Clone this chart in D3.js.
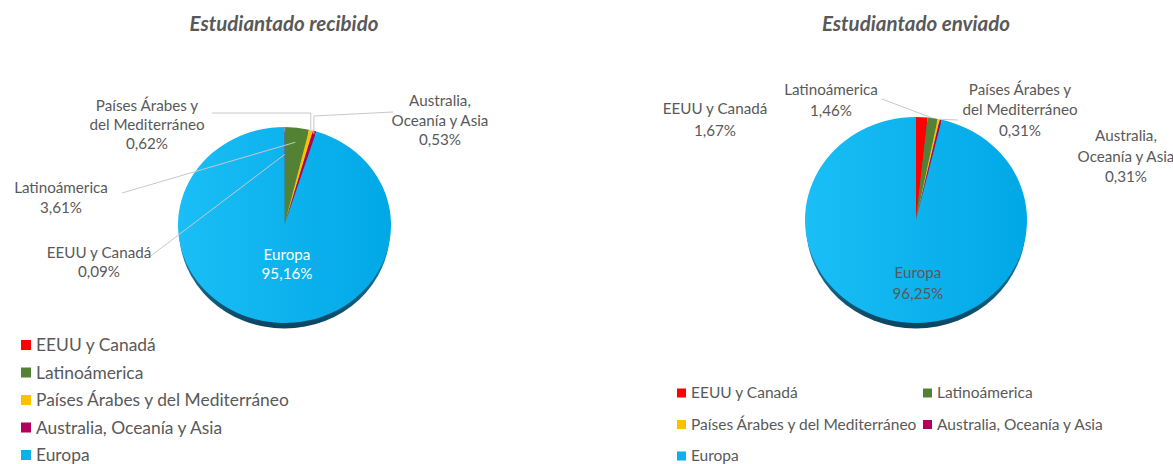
<!DOCTYPE html>
<html lang="es">
	<head>
		<meta charset="utf-8">
		<title>Estudiantado recibido / enviado</title>
		<script type="text/javascript" src="https://d3js.org/d3.v7.min.js"></script>
		<style>
			body { margin:0; background:#fff; }
			text { font-family: Lato, "Open Sans", sans-serif; fill:#595959; }
		</style>
	</head>
	<body>
		<svg id="chart"></svg>
		<script>

			// datos (porcentajes)
			var regiones = ["EEUU y Canadá","Latinoámerica","Países Árabes y del Mediterráneo","Australia, Oceanía y Asia","Europa"];
			var recibido = [0.09,3.61,0.62,0.53,95.16];
			var enviado  = [1.67,1.46,0.31,0.31,96.25];
			var colores  = ["#ff0000","#548235","#ffc000","#b3005c","#0cb0ef"];
			var titulos  = ["Estudiantado recibido","Estudiantado enviado"];

			var width = 1173, height = 464;
			var svg = d3.select("#chart").attr("width",width).attr("height",height);

			var color = d3.scaleOrdinal().domain(regiones).range(colores);
			var fmt = function(v){ return d3.format(".2f")(v).replace(".",",") + "%"; };

			var defs = svg.append("defs");
			var grad = defs.append("linearGradient").attr("id","azul")
				.attr("x1","0").attr("y1","0").attr("x2","1").attr("y2","0");
			grad.append("stop").attr("offset","0").attr("stop-color","#1bbef6");
			grad.append("stop").attr("offset","1").attr("stop-color","#00a8e6");
			var sgrad = defs.append("linearGradient").attr("id","sombra")
				.attr("x1","0").attr("y1","0").attr("x2","0").attr("y2","1");
			sgrad.append("stop").attr("offset","0.6").attr("stop-color","#1a7fa8");
			sgrad.append("stop").attr("offset","1").attr("stop-color","#0b4460");

			// etiquetas partidas en lineas
			var partes = {
				"Países Árabes y del Mediterráneo": ["Países Árabes y","del Mediterráneo"],
				"Australia, Oceanía y Asia": ["Australia,","Oceanía y Asia"]
			};

			var pies = [
				{ datos: recibido, cx:284.5, cy:225, rx:106.5, ry:98, titulo:titulos[0], tx:284,
				  europaColor:"#ffffff",
				  labels: [
					{x:99,  y:[253,272], line:[[148,258],"a0.72"]},
					{x:61,  y:[188,207.5], line:[[122,193],"a0.85"]},
					{x:147, y:[106,124.5,143.5], elbow:[212,113], r:0.99},
					{x:440, y:[101,121,140], elbow:[393,112,116], r:0.97},
					{x:287, y:[255,273.5]}
				]},
				{ datos: enviado, cx:916, cy:220, rx:111, ry:103, titulo:titulos[1], tx:916,
				  europaColor:"#595959",
				  labels: [
					{x:715,  y:[109,130.5]},
					{x:831,  y:[89.5,110.5], line:[[882,99],"a1.0"]},
					{x:1020, y:[89.5,110,131], flat:[958,120]},
					{x:1126, y:[136,156.5,177]},
					{x:918,  y:[273,293.5]}
				]}
			];

			var pie = d3.pie().sort(null).value(function(d){ return d.v; })
				.startAngle(0).endAngle(2*Math.PI);

			pies.forEach(function(p){
				var k = p.ry/p.rx;
				var data = pie(p.datos.map(function(v,i){ return {v:v, name:regiones[i]}; }));
				var arc = d3.arc().innerRadius(0).outerRadius(p.rx);

				// titulo
				svg.append("text")
					.attr("x",p.tx).attr("y",31)
					.attr("text-anchor","middle")
					.style("font-size","20.5px").style("font-weight","bold").style("font-style","italic")
					.text(p.titulo);

				// sombra inferior
				svg.append("ellipse")
					.attr("cx",p.cx).attr("cy",p.cy+5)
					.attr("rx",p.rx-1).attr("ry",p.ry+0.5)
					.attr("fill","url(#sombra)");

				var g = svg.append("g")
					.attr("transform","translate("+p.cx+","+p.cy+") scale(1,"+k+")");
				g.selectAll("path")
					.data(data)
					.enter()
					.append("path")
					.attr("d",arc)
					.attr("fill",function(d){ return d.data.name=="Europa" ? "url(#azul)" : color(d.data.name); });

				// punto sobre el sector (coordenadas de pantalla)
				function punto(d,f){
					var a = (d.startAngle+d.endAngle)/2;
					return [p.cx + f*p.rx*Math.sin(a), p.cy - f*p.ry*Math.cos(a)];
				}

				var lg = svg.append("g").attr("fill","none").attr("stroke","#c8c8c8").attr("stroke-width",1);

				data.forEach(function(d,i){
					var L = p.labels[i];
					var lineas = (partes[d.data.name] || [d.data.name]).concat([fmt(d.data.v)]);
					var t = svg.append("text")
						.attr("text-anchor","middle")
						.style("font-size","15.2px");
					if(d.data.name=="Europa") t.style("fill",p.europaColor);
					lineas.forEach(function(s,j){
						t.append("tspan").attr("x",L.x).attr("y",L.y[j]).attr("dy","0.35em").text(s);
					});

					if(L.line){
						var e = punto(d, +L.line[1].slice(1));
						lg.append("path").attr("d",d3.line()([L.line[0],e]));
					}
					if(L.elbow){
						var e2 = punto(d, L.r);
						var y1 = L.elbow[1], y2 = L.elbow.length>2 ? L.elbow[2] : y1;
						lg.append("path").attr("d",d3.line()([[L.elbow[0],y1],[e2[0],y2],[e2[0],e2[1]]]));
					}
					if(L.flat){
						var e3 = punto(d, 1.0);
						lg.append("path").attr("d",d3.line()([e3,L.flat]));
					}
				});
			});

			// leyenda 1 (vertical)
			var ley1 = svg.append("g").attr("transform","translate(21,345)");
			ley1.selectAll("g")
				.data(regiones)
				.enter()
				.append("g")
				.attr("transform",function(d,i){ return "translate(0,"+(i*27.5)+")"; })
				.each(function(d){
					var s = d3.select(this);
					s.append("rect").attr("x",0).attr("y",-5).attr("width",10).attr("height",10).attr("fill",color(d));
					s.append("text").attr("x",15).attr("y",0).attr("dy","0.35em").style("font-size","17.4px").text(d);
				});

			// leyenda 2 (dos columnas)
			var ley2 = svg.append("g").attr("transform","translate(677,393)");
			ley2.selectAll("g")
				.data(regiones)
				.enter()
				.append("g")
				.attr("transform",function(d,i){ return "translate("+((i%2)*246)+","+(Math.floor(i/2)*31.5)+")"; })
				.each(function(d){
					var s = d3.select(this);
					s.append("rect").attr("x",0).attr("y",-4.5).attr("width",9).attr("height",9).attr("fill",color(d));
					s.append("text").attr("x",14).attr("y",0).attr("dy","0.35em").style("font-size","15.5px").text(d);
				});

		</script>
	</body>
</html>
